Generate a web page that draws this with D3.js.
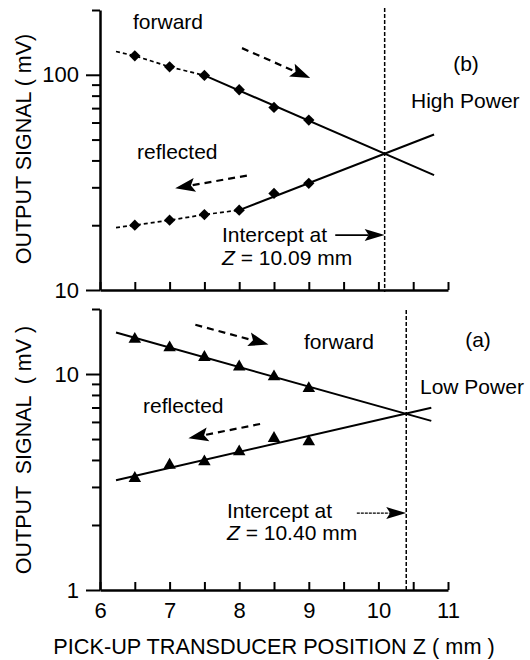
<!DOCTYPE html>
<html><head><meta charset="utf-8">
<script src="https://cdn.jsdelivr.net/npm/d3@7"></script>
<style>body{margin:0;background:#fff} svg text{font-family:"Liberation Sans",Arial,Helvetica,sans-serif;fill:#000}</style>
</head><body><svg id="c" width="530" height="660"></svg>
<script>
// ---------- data ----------
const zPositions = [6.5, 7, 7.5, 8, 8.5, 9];
const highForward = [122.5, 108.9, 99.3, 85.2, 70.5, 61.6];
const highReflected = [20.0, 21.1, 22.4, 23.5, 28.1, 31.3];
const lowForward = [14.5, 13.25, 11.95, 10.8, 9.72, 8.58];
const lowReflected = [3.29, 3.79, 3.93, 4.37, 5.04, 4.86];

const highForwardFit = [[7.5, 99.3], [10.8, 34.2]];
const highReflectedFit = [[8, 23.5], [10.8, 52.8]];
const highForwardLeadStart = [6.23, 128.3];
const highReflectedLeadStart = [6.23, 19.5];
const lowForwardFit = [[6.23, 15.56], [10.76, 6.07]];
const lowReflectedFit = [[6.23, 3.22], [10.76, 6.98]];

const interceptHigh = 10.09;
const interceptLow = 10.40;

const xTicks = [6, 6.5, 7, 7.5, 8, 8.5, 9, 9.5, 10, 10.5, 11];
const xTickLabels = ["6", "7", "8", "9", "10", "11"];
const highMajor = [10, 100];
const highMinor = [20, 30, 40, 50, 60, 70, 80, 90, 200];
const lowMajor = [1, 10];
const lowMinor = [2, 3, 4, 5, 6, 7, 8, 9, 20];

// annotation arrows in data coords [from, to]
const highFwdArrow = [[8.04, 133], [9.02, 96.5]];
const highRefArrow = [[8.11, 34.0], [7.08, 29.7]];
const lowFwdArrow = [[7.37, 16.9], [8.42, 13.7]];
const lowRefArrow = [[8.30, 5.87], [7.27, 5.04]];
const highInterceptArrow = [[9.38, 18.0], [10.09, 18.0]];
const lowInterceptArrow = [[9.69, 2.27], [10.40, 2.27]];

// ---------- layout ----------
const svg = d3.select("#c");
const x = d3.scaleLinear().domain([6, 11]).range([100, 448]);
const yTop = d3.scaleLog().domain([10, 200]).range([290, 10]);
const yBot = d3.scaleLog().domain([1, 20]).range([590, 309]);
const FS = 21;

function styleAxis(g) {
  g.attr("font-size", FS + 1).attr("font-family", null);
  g.select(".domain").attr("stroke-width", 2.5).attr("stroke", "#000");
  g.selectAll(".tick line").attr("stroke-width", 2).attr("stroke", "#000");
  g.selectAll(".tick text").attr("fill", "#000");
}

function panel(y, major, minor, labels) {
  const gy = svg.append("g").attr("transform", `translate(${x.range()[0]},0)`);
  gy.call(d3.axisLeft(y).tickValues(major).tickSize(14).tickSizeOuter(0).tickPadding(7).tickFormat(d3.format("d")));
  styleAxis(gy);
  const gm = svg.append("g").attr("transform", `translate(${x.range()[0]},0)`);
  gm.call(d3.axisLeft(y).tickValues(minor).tickSize(8).tickSizeOuter(0).tickFormat(""));
  styleAxis(gm);
  gm.select(".domain").remove();
  const gx = svg.append("g").attr("transform", `translate(0,${y.range()[0]})`);
  gx.call(d3.axisBottom(x).tickValues(xTicks).tickSizeInner(-8).tickSizeOuter(0).tickPadding(12)
    .tickFormat(d => labels && xTickLabels.includes(String(d)) ? String(d) : ""));
  styleAxis(gx);
}

function line(y, pts, dash, w) {
  const gen = d3.line().x(d => x(d[0])).y(d => y(d[1]));
  svg.append("path").attr("d", gen(pts)).attr("fill", "none").attr("stroke", "#000")
    .attr("stroke-width", w || 2).attr("stroke-dasharray", dash || null);
}

function arrow(y, a, dash, w, L, hw) {
  const x1 = x(a[0][0]), y1 = y(a[0][1]), x2 = x(a[1][0]), y2 = y(a[1][1]);
  const ang = Math.atan2(y2 - y1, x2 - x1);
  const len = Math.hypot(x2 - x1, y2 - y1);
  const g = svg.append("g").attr("transform", `translate(${x1},${y1}) rotate(${ang * 180 / Math.PI})`);
  g.append("line").attr("x1", 0).attr("y1", 0).attr("x2", len - L * 0.8).attr("y2", 0)
    .attr("stroke", "#000").attr("stroke-width", w).attr("stroke-dasharray", dash || null);
  g.append("path").attr("d", `M${len},0L${len - L},${-hw}L${len - L * 0.8},0L${len - L},${hw}Z`).attr("fill", "#000");
}

function markers(y, vals, type, size) {
  svg.append("g").selectAll("path").data(zPositions.map((z, i) => [z, vals[i]])).join("path")
    .attr("d", d3.symbol().type(type).size(size)())
    .attr("transform", d => `translate(${x(d[0])},${y(d[1])})` + (type === d3.symbolSquare ? " rotate(45)" : ""))
    .attr("fill", "#000");
}

function txt(px, py, s, anchor) {
  return svg.append("text").attr("x", px).attr("y", py).attr("font-size", FS)
    .attr("text-anchor", anchor || "start").style("white-space", "pre").text(s);
}

function zText(px, py, s) {
  const t = svg.append("text").attr("x", px).attr("y", py).attr("font-size", FS).style("white-space", "pre");
  t.append("tspan").attr("font-style", "italic").text("Z");
  t.append("tspan").text(s);
}

// ---------- top panel (b) ----------
panel(yTop, highMajor, highMinor, false);
svg.append("line").attr("x1", x(interceptHigh)).attr("x2", x(interceptHigh))
  .attr("y1", yTop(200) - 2).attr("y2", yTop(10) + 2)
  .attr("stroke", "#000").attr("stroke-width", 1.5).attr("stroke-dasharray", "4,2");

const hfPts = zPositions.map((z, i) => [z, highForward[i]]);
const hrPts = zPositions.map((z, i) => [z, highReflected[i]]);
line(yTop, [highForwardLeadStart, ...hfPts.filter(d => d[0] <= highForwardFit[0][0])], "4,3", 1.7);
line(yTop, [highReflectedLeadStart, ...hrPts.filter(d => d[0] <= highReflectedFit[0][0])], "4,3", 1.7);
line(yTop, highForwardFit);
line(yTop, highReflectedFit);
markers(yTop, highForward, d3.symbolSquare, 64);
markers(yTop, highReflected, d3.symbolSquare, 64);
arrow(yTop, highFwdArrow, "7,5", 2.2, 20, 7);
arrow(yTop, highRefArrow, "7,5", 2.2, 20, 7);
arrow(yTop, highInterceptArrow, null, 1.7, 20, 6);

txt(133, 29, "forward");
txt(466, 71, "(b)", "middle");
txt(411, 108, "High Power");
txt(137, 159, "reflected");
txt(222, 242, "Intercept at");
zText(222, 265, " = 10.09 mm");

// ---------- bottom panel (a) ----------
panel(yBot, lowMajor, lowMinor, true);
svg.append("line").attr("x1", x(interceptLow)).attr("x2", x(interceptLow))
  .attr("y1", yBot(20) + 1).attr("y2", yBot(1))
  .attr("stroke", "#000").attr("stroke-width", 1.5).attr("stroke-dasharray", "4,2");
line(yBot, lowForwardFit);
line(yBot, lowReflectedFit);
markers(yBot, lowForward, d3.symbolTriangle, 68);
markers(yBot, lowReflected, d3.symbolTriangle, 68);
arrow(yBot, lowFwdArrow, "7,5", 2.2, 20, 7);
arrow(yBot, lowRefArrow, "7,5", 2.2, 20, 7);
arrow(yBot, lowInterceptArrow, "3,1", 1.2, 20, 6);

txt(304, 349, "forward");
txt(478, 347, "(a)", "middle");
txt(420, 394, "Low Power");
txt(143, 413, "reflected");
txt(227, 518, "Intercept at");
zText(227, 540, " = 10.40 mm");

// ---------- axis titles ----------
svg.append("text").attr("transform", "translate(31,149) rotate(-90)").attr("text-anchor", "middle")
  .attr("font-size", 21.5).style("white-space", "pre").text("OUTPUT SIGNAL ( mV)");
svg.append("text").attr("transform", "translate(31,450) rotate(-90)").attr("text-anchor", "middle")
  .attr("font-size", 21.5).style("white-space", "pre").text("OUTPUT  SIGNAL  ( mV )");
svg.append("text").attr("x", 274).attr("y", 654).attr("text-anchor", "middle")
  .attr("font-size", 21.7).style("white-space", "pre").text("PICK-UP TRANSDUCER POSITION Z ( mm )");
</script></body></html>
